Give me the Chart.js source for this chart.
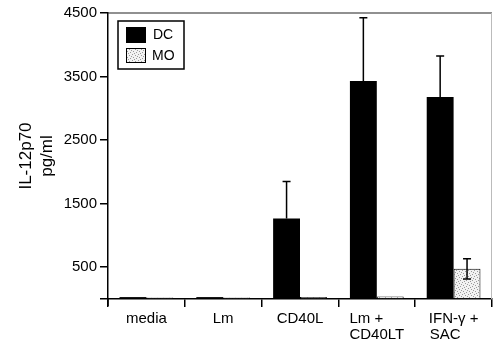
<!DOCTYPE html>
<html>
<head>
<meta charset="utf-8">
<script src="https://cdn.jsdelivr.net/npm/chart.js@4/dist/chart.umd.min.js"></script>
<style>
  html, body { margin: 0; padding: 0; background: #fff; }
  #wrap { width: 493px; height: 343px; }
</style>
</head>
<body>
<div id="wrap"><canvas id="chart"></canvas></div>
<script>
var categories = ['media', 'Lm', 'CD40L', ['Lm +     ', 'CD40LT'], ['IFN-\u03b3 +', 'SAC    ']];
var dcValues = [30, 30, 1265, 3430, 3180];
var dcErrors = [0, 0, 585, 995, 645];
var moValues = [25, 25, 30, 40, 475];
var moErrors = [0, 0, 0, 0, 160];
var yTicks = [0, 500, 1500, 2500, 3500, 4500];

var FONT = '"Liberation Sans", Arial, sans-serif';

// light stipple fill for the MO bars
var makeStipple = function () {
    var c = document.createElement('canvas');
    c.width = 6;
    c.height = 6;
    var g = c.getContext('2d');
    g.fillStyle = '#f2f2f2';
    g.fillRect(0, 0, 6, 6);
    g.fillStyle = '#9a9a9a';
    var dots = [[0, 0], [3, 1], [1, 3], [4, 4], [5, 2], [2, 5]];
    for (var i = 0; i < dots.length; i++) {
        g.fillRect(dots[i][0], dots[i][1], 1, 1);
    }
    return g.createPattern(c, 'repeat');
};
var stipple = makeStipple();

var errorBars = {
    id: 'errorBars',
    afterDatasetsDraw: function (chart) {
        var ctx = chart.ctx;
        var y = chart.scales.y;
        ctx.save();
        ctx.strokeStyle = '#000';
        ctx.lineWidth = 1.5;
        chart.data.datasets.forEach(function (ds, di) {
            var meta = chart.getDatasetMeta(di);
            meta.data.forEach(function (bar, i) {
                var err = ds.errors[i];
                if (!err) return;
                var v = ds.data[i];
                var top = y.getPixelForValue(v + err);
                var bottom = ds.bothWays ? y.getPixelForValue(v - err) : y.getPixelForValue(v);
                ctx.beginPath();
                ctx.moveTo(bar.x, top);
                ctx.lineTo(bar.x, bottom);
                ctx.moveTo(bar.x - 4, top);
                ctx.lineTo(bar.x + 4, top);
                if (ds.bothWays) {
                    ctx.moveTo(bar.x - 4, bottom);
                    ctx.lineTo(bar.x + 4, bottom);
                }
                ctx.stroke();
            });
        });
        ctx.restore();
    }
};

var frameAndLegend = {
    id: 'frameAndLegend',
    afterDraw: function (chart) {
        var ctx = chart.ctx;
        var a = chart.chartArea;
        ctx.save();
        // top and right frame
        ctx.strokeStyle = '#222';
        ctx.lineWidth = 1.2;
        ctx.beginPath();
        ctx.moveTo(a.left, a.top);
        ctx.lineTo(a.right, a.top);
        ctx.stroke();
        ctx.strokeStyle = '#bbb';
        ctx.lineWidth = 1;
        ctx.beginPath();
        ctx.moveTo(a.right - 0.5, a.top);
        ctx.lineTo(a.right - 0.5, a.bottom);
        ctx.stroke();
        // y axis runs a little below the x axis
        ctx.strokeStyle = '#000';
        ctx.lineWidth = 1.5;
        ctx.beginPath();
        ctx.moveTo(a.left, a.bottom);
        ctx.lineTo(a.left, a.bottom + 7);
        ctx.stroke();

        // legend box
        var lx = a.left + 10, ly = a.top + 8;
        ctx.lineWidth = 1.5;
        ctx.strokeStyle = '#000';
        ctx.strokeRect(lx, ly, 66, 48);
        ctx.fillStyle = '#000';
        ctx.fillRect(lx + 8, ly + 6, 20, 16);
        ctx.fillStyle = stipple;
        ctx.fillRect(lx + 8, ly + 27, 20, 15);
        ctx.lineWidth = 1;
        ctx.strokeRect(lx + 8.5, ly + 27.5, 19, 14);
        ctx.fillStyle = '#000';
        ctx.font = '14px ' + FONT;
        ctx.textBaseline = 'middle';
        ctx.fillText('DC', lx + 35, ly + 14);
        ctx.fillText('MO', lx + 34, ly + 35);
        ctx.restore();
    }
};

new Chart(document.getElementById('chart'), {
    type: 'bar',
    data: {
        labels: categories,
        datasets: [{
            label: 'DC',
            data: dcValues,
            errors: dcErrors,
            bothWays: false,
            backgroundColor: '#000',
            borderColor: '#000',
            borderWidth: 0
        }, {
            label: 'MO',
            data: moValues,
            errors: moErrors,
            bothWays: true,
            backgroundColor: stipple,
            borderColor: '#000',
            borderWidth: 1
        }]
    },
    options: {
        responsive: true,
        maintainAspectRatio: false,
        animation: false,
        datasets: {
            bar: { categoryPercentage: 0.7, barPercentage: 1.0 }
        },
        layout: { padding: { top: 13, right: 1, left: 0, bottom: 0 } },
        plugins: {
            legend: { display: false },
            tooltip: { enabled: false }
        },
        scales: {
            x: {
                offset: true,
                afterFit: function (scale) { scale.height = 44; },
                border: { display: true, color: '#000', width: 1.5 },
                grid: {
                    offset: true,
                    drawOnChartArea: false,
                    drawTicks: true,
                    tickLength: 8,
                    color: '#000',
                    lineWidth: 1.5
                },
                ticks: {
                    color: '#000',
                    padding: 4,
                    maxRotation: 0,
                    autoSkip: false,
                    font: { family: FONT, size: 15, lineHeight: 1.05 }
                }
            },
            y: {
                min: 0,
                max: 4500,
                afterFit: function (scale) { scale.width = 108; },
                afterBuildTicks: function (scale) {
                    scale.ticks = yTicks.map(function (v) { return { value: v }; });
                },
                border: { display: true, color: '#000', width: 1.5 },
                grid: {
                    drawOnChartArea: false,
                    drawTicks: true,
                    tickLength: 8,
                    color: '#000',
                    lineWidth: 1.5
                },
                ticks: {
                    color: '#000',
                    padding: 3,
                    font: { family: FONT, size: 15 },
                    callback: function (v) { return v === 0 ? '' : String(v); }
                },
                title: {
                    display: true,
                    text: ['IL-12p70', 'pg/ml'],
                    color: '#000',
                    padding: { top: 16, bottom: 0 },
                    font: { family: FONT, size: 17, lineHeight: 1.24 }
                }
            }
        }
    },
    plugins: [errorBars, frameAndLegend]
});
</script>
</body>
</html>
